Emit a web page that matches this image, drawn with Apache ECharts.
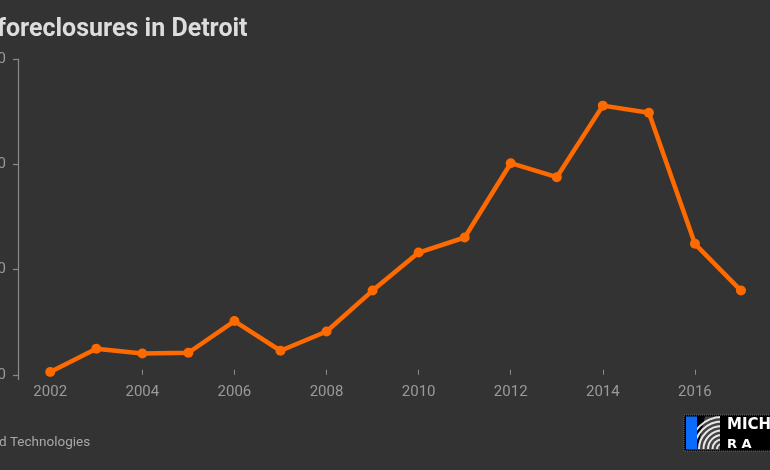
<!DOCTYPE html>
<html>
<head>
<meta charset="utf-8">
<script src="https://cdn.jsdelivr.net/npm/echarts@6/dist/echarts.min.js"></script>
<style>
html,body{margin:0;padding:0;background:#333333;}
#chart{width:770px;height:470px;}
</style>
</head>
<body>
<div id="chart"></div>
<script>
const years = [2002, 2003, 2004, 2005, 2006, 2007, 2008, 2009, 2010, 2011, 2012, 2013, 2014, 2015, 2016, 2017];
const foreclosures = [260, 2470, 2020, 2090, 5100, 2280, 4110, 8000, 11610, 13040, 20100, 18770, 25570, 24900, 12440, 8000];
const xTickValues = [2002, 2004, 2006, 2008, 2010, 2012, 2014, 2016];
const yTickValues = [0, 10000, 20000, 30000];
const titleText = 'foreclosures in Detroit';
const sourceText = 'd Technologies';

const chart = echarts.init(document.getElementById('chart'), null, {renderer: 'canvas'});

const stripes = [];
for (let i = 0; i < 7; i++) {
  stripes.push({
    type: 'arc',
    shape: {cx: 722, cy: 449, r: 5 + i * 4.5, startAngle: Math.PI * 1.0, endAngle: Math.PI * 1.5},
    style: {stroke: '#e8e8e8', lineWidth: 2, fill: null},
    z: 12
  });
}

chart.setOption({
  backgroundColor: '#333333',
  animation: false,
  title: {
    text: titleText,
    left: -8,
    top: 12,
    textStyle: {color: '#dddddd', fontSize: 25, fontWeight: 'bold', fontFamily: 'Roboto'}
  },
  grid: {left: 18, right: 6, top: 59, bottom: 90.5, containLabel: false, outerBoundsMode: 'none'},
  xAxis: {
    type: 'value',
    min: 2001.3,
    max: 2017.5,
    axisLine: {show: false},
    axisTick: {show: true, inside: true, length: 5, customValues: xTickValues, lineStyle: {color: '#8a8a8a', width: 1}},
    axisLabel: {customValues: xTickValues, formatter: v => String(v), color: '#9a9a9a', fontSize: 15, margin: 5, fontFamily: 'Roboto'},
    splitLine: {show: false}
  },
  yAxis: {
    type: 'value',
    min: -450,
    max: 30000,
    axisLine: {show: true, lineStyle: {color: '#8a8a8a', width: 1.2}},
    axisTick: {show: true, length: 5, customValues: yTickValues, lineStyle: {color: '#8a8a8a', width: 1.2}},
    axisLabel: {customValues: yTickValues, formatter: v => String(v), color: '#9a9a9a', fontSize: 15, margin: 12, fontFamily: 'Roboto'},
    splitLine: {show: false}
  },
  series: [{
    type: 'line',
    data: years.map((y, i) => [y, foreclosures[i]]),
    symbol: 'circle',
    symbolSize: 10,
    itemStyle: {color: '#ff6a00'},
    lineStyle: {color: '#ff6a00', width: 4.5},
    clip: false
  }],
  graphic: [
    {type: 'text', left: -1, top: 436, style: {text: sourceText, fill: '#a8a8a8', fontSize: 13.5, fontFamily: 'Roboto'}},
    {type: 'rect', shape: {x: 684, y: 415, width: 100, height: 36}, style: {fill: '#000000', stroke: '#666', lineWidth: 1, lineDash: [1, 1]}, z: 10},
    {type: 'polygon', shape: {points: [[697, 450], [705, 416.5], [720, 416.5], [720, 450]]}, style: {fill: '#444444'}, z: 11},
    ...stripes,
    {type: 'rect', shape: {x: 686, y: 416.5, width: 11, height: 33}, style: {fill: '#0a6cff'}, z: 13},
    {type: 'rect', shape: {x: 720, y: 416, width: 60, height: 34}, style: {fill: '#000000'}, z: 13},
    {type: 'text', left: 727, top: 418, style: {text: 'MICH', fill: '#ffffff', fontSize: 15, fontWeight: 'bold', fontFamily: 'DejaVu Sans'}, z: 14},
    {type: 'text', left: 727, top: 438, style: {text: 'R A', fill: '#ffffff', fontSize: 13, fontWeight: 'bold', fontFamily: 'DejaVu Sans'}, z: 14}
  ]
});
</script>
</body>
</html>
